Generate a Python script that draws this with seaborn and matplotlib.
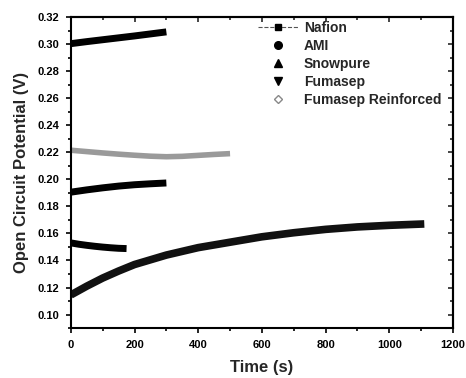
import matplotlib
matplotlib.use("Agg")
import matplotlib.pyplot as plt
from matplotlib.lines import Line2D
from matplotlib.ticker import MultipleLocator
import seaborn as sns
import pandas as pd

# ---- data ----
series_names = ["Nafion", "AMI", "Snowpure", "Fumasep", "Fumasep Reinforced"]

nafion_t = [0, 50, 100, 150, 200, 250, 300]
nafion_v = [0.3003, 0.3018, 0.3032, 0.3046, 0.3060, 0.3075, 0.3090]

ami_t = [0, 50, 100, 150, 200, 250, 300]
ami_v = [0.1905, 0.1922, 0.1937, 0.1950, 0.1960, 0.1967, 0.1973]

snow_t = [0, 50, 100, 150, 200, 300, 400, 500, 600, 700, 800, 900, 1000, 1110]
snow_v = [0.1145, 0.1210, 0.1270, 0.1322, 0.1370, 0.1440, 0.1495, 0.1535, 0.1575,
          0.1605, 0.1630, 0.1648, 0.1660, 0.1670]

fuma_t = [0, 25, 50, 75, 100, 125, 150, 175]
fuma_v = [0.1530, 0.1520, 0.1512, 0.1505, 0.1499, 0.1494, 0.1490, 0.1488]

fumr_t = [0, 50, 100, 150, 200, 250, 300, 350, 400, 450, 500]
fumr_v = [0.2215, 0.2205, 0.2195, 0.2186, 0.2178, 0.2171, 0.2167, 0.2170, 0.2177, 0.2184, 0.2190]

x_ticks = [0, 200, 400, 600, 800, 1000, 1200]
y_ticks = [0.10, 0.12, 0.14, 0.16, 0.18, 0.20, 0.22, 0.24, 0.26, 0.28, 0.30, 0.32]

frames = []
for name, t, v in zip(series_names,
                      [nafion_t, ami_t, snow_t, fuma_t, fumr_t],
                      [nafion_v, ami_v, snow_v, fuma_v, fumr_v]):
    frames.append(pd.DataFrame({"Time": t, "OCP": v, "Membrane": name}))
df = pd.concat(frames, ignore_index=True)

sns.set_theme(style="ticks")
plt.rcParams["font.family"] = ["Liberation Sans", "DejaVu Sans"]
plt.rcParams["font.weight"] = "bold"

fig = plt.figure(figsize=(4.66, 3.78), dpi=100)
ax = fig.add_axes([0.152, 0.132, 0.820, 0.823])

palette = {"Nafion": "black", "AMI": "black", "Snowpure": "#111111",
           "Fumasep": "black", "Fumasep Reinforced": "#9a9a9a"}
for name in series_names:
    sub = df[df["Membrane"] == name]
    lw = 4.0 if name == "Fumasep Reinforced" else (5.5 if name == "Snowpure" else 5.0)
    sns.lineplot(data=sub, x="Time", y="OCP", color=palette[name], lw=lw,
                 ax=ax, legend=False, sort=False, solid_capstyle="butt")

ax.set_xlim(0, 1200)
ax.set_ylim(0.09, 0.32)
ax.set_xticks(x_ticks)
ax.set_yticks(y_ticks)
ax.set_yticklabels([f"{v:.2f}" for v in y_ticks])
ax.xaxis.set_minor_locator(MultipleLocator(100))
ax.yaxis.set_minor_locator(MultipleLocator(0.01))
ax.tick_params(which="both", direction="out", width=1.2,
               labelsize=8, colors="black", pad=5)
ax.tick_params(which="major", length=3.6)
ax.tick_params(which="minor", length=2.2)
for lab in ax.get_xticklabels() + ax.get_yticklabels():
    lab.set_fontweight("bold")
for s in ax.spines.values():
    s.set_linewidth(1.5)
    s.set_color("black")

# mirrored inward ticks on top and right
top = ax.secondary_xaxis("top")
top.set_xticks(x_ticks)
top.xaxis.set_minor_locator(MultipleLocator(100))
right = ax.secondary_yaxis("right")
right.set_yticks(y_ticks)
right.yaxis.set_minor_locator(MultipleLocator(0.01))
for sec in (top, right):
    sec.tick_params(which="both", direction="in", width=1.2, labelleft=False,
                    labelright=False, labeltop=False, labelbottom=False)
    sec.tick_params(which="major", length=3.6)
    sec.tick_params(which="minor", length=2.2)
    for s in sec.spines.values():
        s.set_linewidth(1.5)

ax.set_xlabel("Time (s)", fontsize=12, fontweight="bold", labelpad=7)
ax.set_ylabel("Open Circuit Potential (V)", fontsize=12, fontweight="bold", labelpad=6)

handles = [
    Line2D([], [], color="#555555", ls="--", lw=0.8, marker="s", ms=5,
           mfc="black", mec="black"),
    Line2D([], [], ls="none", marker="o", ms=5.5, color="black"),
    Line2D([], [], ls="none", marker="^", ms=5.5, color="black"),
    Line2D([], [], ls="none", marker="v", ms=6, color="black"),
    Line2D([], [], ls="none", marker="D", ms=4, mfc="white", mec="#888888", mew=1),
]
leg = ax.legend(handles, series_names, loc="upper left", bbox_to_anchor=(0.475, 1.005),
                frameon=False, fontsize=10, handlelength=2.9, labelspacing=0.28,
                handletextpad=0.4, borderaxespad=0.0)
for t in leg.get_texts():
    t.set_fontweight("bold")

fig.savefig("out.png", dpi=100)
